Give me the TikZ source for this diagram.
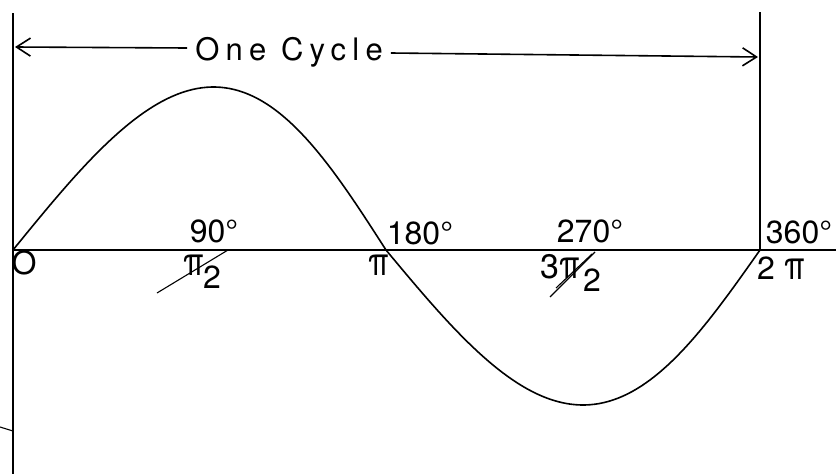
\documentclass[tikz,border=0pt]{standalone}
\usepackage{fontspec}
\usepackage{graphicx}
\setmainfont{TeX Gyre Heros}
\usetikzlibrary{arrows.meta}
\newcommand{\tallpi}{\scalebox{1.1}[1.4]{π}}
\begin{document}
\begin{tikzpicture}[x=1pt,y=-1pt,
  ink/.style={line width=1.6pt,black},
  thin ink/.style={line width=1.1pt,black},
  lbl/.style={inner sep=0pt,font=\fontsize{32}{32}\selectfont},
  pi lbl/.style={inner sep=0pt,font=\fontsize{28}{28}\selectfont},
  barb/.style={-{Straight Barb[length=14pt,width=18pt,line width=1.6pt]}}]
\useasboundingbox (0,0) rectangle (836,474);
% axes
\coordinate (ltop) at (13,13);
\coordinate (lbot) at (13,474);
\coordinate (o) at (13,250);
\coordinate (xend) at (836,250);
\coordinate (rtop) at (760,12);
\coordinate (rbot) at (760,250);
\draw[ink] (ltop) -- (lbot);
\draw[ink] (o) -- (xend);
\draw[thin ink] (rtop) -- (rbot);
\coordinate (tk1) at (0,427);
\coordinate (tk2) at (13,431);
\draw[thin ink] (tk1) -- (tk2);
% one cycle arrow
\node[lbl,font=\fontsize{31}{31}\selectfont\addfontfeature{LetterSpace=20}] (cyc) at (289,52) {One Cycle};
\coordinate (la) at (15,47);
\coordinate (ra) at (758,57);
\draw[ink,barb] (cyc.west |- 0,48) ++(-8,0) coordinate (cl) -- (la);
\draw[ink,barb] (cyc.east |- 0,53) ++(8,0) coordinate (cr) -- (ra);
% sine curve
\draw[ink] plot[domain=0:180,samples=80] ({13+(373/180)*\x+14*sin(\x)},{250-163*sin(\x)});
\draw[ink] plot[domain=0:180,samples=80] ({386+(374/180)*\x+10*sin(\x)},{250+155*sin(\x)});
% labels
\node[lbl] (o lbl) at (24,263) {O};
\node[lbl] (d90) at (214,231) {90°};
\node[pi lbl] (p2pi) at (194,265) {\tallpi};
\node[lbl] (p2two) at (212,277) {2};
\coordinate (s1a) at (157,293);
\coordinate (s1b) at (228,250);
\draw[thin ink] (s1a) -- (s1b);
\node[pi lbl] (ppi) at (379,265) {\tallpi};
\node[lbl] (d180) at (420,233) {180°};
\node[lbl] (d270) at (590,231) {270°};
\node[pi lbl] (p32a) at (560,267) {{\fontsize{34}{34}\selectfont 3}\tallpi};
\node[lbl] (p32two) at (592,280) {2};
\coordinate (s2a) at (550,297);
\coordinate (s2b) at (595,252);
\coordinate (s3a) at (556,288);
\coordinate (s3b) at (592,254);
\draw[thin ink] (s2a) -- (s2b);
\draw[thin ink] (s3a) -- (s3b);
\node[lbl] (d360) at (799,232) {360°};
\node[lbl] (p2a) at (766,268) {2};
\node[pi lbl] (p2b) at (795,269) {\tallpi};
\end{tikzpicture}
\end{document}
